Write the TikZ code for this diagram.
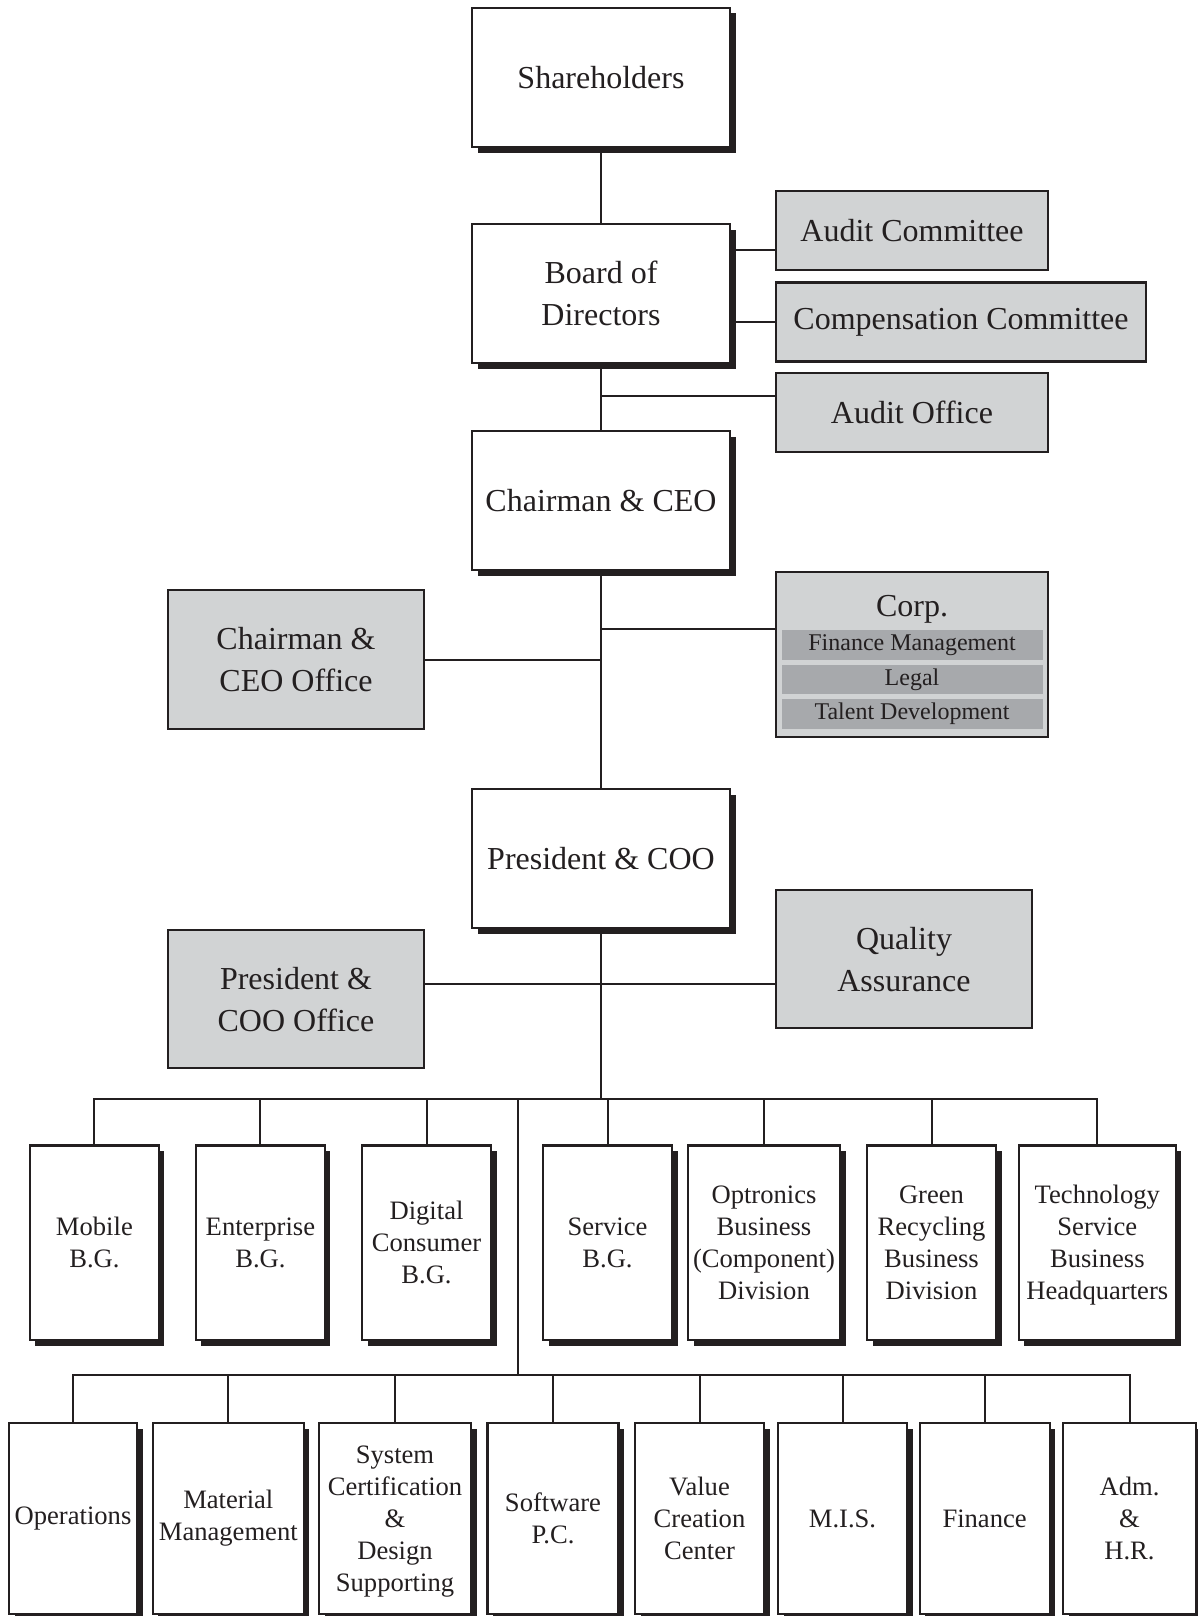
\documentclass[tikz,border=0pt]{standalone}
\usepackage{fontspec}
\setmainfont{Liberation Serif}
\usetikzlibrary{shadows}
\definecolor{ink}{HTML}{231F20}
\definecolor{boxgrey}{HTML}{D1D3D4}
\definecolor{bargrey}{HTML}{A7A9AC}
\begin{document}
\begin{tikzpicture}[x=0.5pt,y=-0.5pt,
  sz/.style 2 args={minimum width=#1*0.5pt, minimum height=#2*0.5pt},
  base/.style={draw=ink, line width=1.1pt, text=ink, inner sep=0pt, outer sep=0pt, align=center},
  whitebox/.style={base, fill=white, drop shadow={shadow xshift=2.75pt, shadow yshift=-2.75pt, opacity=1, fill=ink}},
  greybox/.style={base, fill=boxgrey},
  big/.style={font=\fontsize{16}{21}\selectfont},
  small/.style={font=\fontsize{13.3}{16}\selectfont},
  bar/.style={fill=bargrey, text=ink, inner sep=0pt, outer sep=0pt, font=\fontsize{12}{14}\selectfont},
  conn/.style={draw=ink, line width=1pt},
]
\useasboundingbox (0,0) rectangle (1198,1616);

% top chain
\node[whitebox,big,sz={258}{139}] (sh)  at (601,77.5)  {Shareholders};
\node[whitebox,big,sz={258}{139}] (bod) at (601,293.5) {Board of\\Directors};
\node[whitebox,big,sz={258}{139}] (ceo) at (601,500.5) {Chairman \& CEO};
\node[whitebox,big,sz={258}{139}] (coo) at (601,858.5) {President \& COO};

% grey side boxes
\node[greybox,big,sz={272}{79}]  (ac)  at (912,230.5) {Audit Committee};
\node[greybox,big,sz={370}{79}]  (cc)  at (961,322)   {Compensation Committee};
\node[greybox,big,sz={272}{79}]  (ao)  at (912,412.5) {Audit Office};
\node[greybox,sz={272}{165}]     (corp) at (912,654.5) {};
\node[text=ink,big,inner sep=0pt] (corpt) at (912,609) {Corp.};
\node[bar,sz={261}{30}] (fm)  at (912,645)   {Finance Management};
\node[bar,sz={261}{29}] (lg)  at (912,679.5) {Legal};
\node[bar,sz={261}{30}] (td)  at (912,714)   {Talent Development};
\node[greybox,big,sz={256}{139},text depth=0pt] (ceooff) at (296,659.5) {Chairman \&\\CEO Office};
\node[greybox,big,sz={256}{138},text depth=0pt] (qa)     at (904,959)   {Quality\\Assurance};
\node[greybox,big,sz={256}{138},text depth=0pt] (coooff) at (296,999)   {President \&\\COO Office};

% row 1
\node[whitebox,small,sz={129}{194.5}] (mob) at (94.4,1242.75)  {Mobile\\B.G.};
\node[whitebox,small,sz={129}{194.5}] (ent) at (260.4,1242.75) {Enterprise\\B.G.};
\node[whitebox,small,sz={129}{194.5}] (dig) at (426.5,1242.75) {Digital\\Consumer\\B.G.};
\node[whitebox,small,sz={129}{194.5}] (ser) at (607.5,1242.75) {Service\\B.G.};
\node[whitebox,small,sz={152}{194.5},text depth=0pt] (opt) at (764,1242.75)   {Optronics\\Business\\(Component)\\Division};
\node[whitebox,small,sz={129}{194.5},text depth=0pt] (grn) at (931.5,1242.75) {Green\\Recycling\\Business\\Division};
\node[whitebox,small,sz={157}{194.5},text depth=0pt] (tec) at (1097.3,1242.75) {Technology\\Service\\Business\\Headquarters};

% row 2
\node[whitebox,small,sz={128}{191}] (ops) at (73,1518.5)    {Operations};
\node[whitebox,small,sz={151}{191}] (mat) at (228.3,1518.5) {Material\\Management};
\node[whitebox,small,sz={152}{191},text depth=0pt] (sys) at (395,1518.5)   {System\\Certification\\\&\\Design\\Supporting};
\node[whitebox,small,sz={131}{191}] (sof) at (553,1518.5)   {Software\\P.C.};
\node[whitebox,small,sz={129}{191}] (val) at (699.5,1518.5) {Value\\Creation\\Center};
\node[whitebox,small,sz={129}{191}] (mis) at (842.5,1518.5) {M.I.S.};
\node[whitebox,small,sz={130}{191}] (fin) at (984.6,1518.5) {Finance};
\node[whitebox,small,sz={133}{191}] (adm) at (1129.5,1518.5) {Adm.\\\&\\H.R.};

% helper coordinates
\coordinate (yac) at (0,249.5);
\coordinate (yao) at (0,396);
\coordinate (ycorp) at (0,629);
\coordinate (yqa) at (0,983.6);
\coordinate (bus1) at (601,1099);
\coordinate (br) at (517.6,1099);
\coordinate (bus2) at (517.6,1375);

% connectors
\draw[conn] (sh) -- (bod);
\draw[conn] (bod) -- (ceo);
\draw[conn] (ceo) -- (coo);
\draw[conn] (bod.east |- yac) -- (ac.west |- yac);
\draw[conn] (bod.east |- cc) -- (cc.west);
\draw[conn] (bod.south |- yao) -- (ao.west |- yao);
\draw[conn] (ceo.south |- ycorp) -- (corp.west |- ycorp);
\draw[conn] (ceooff.east) -- (ceo.south |- ceooff);
\draw[conn] (coooff.east |- yqa) -- (qa.west |- yqa);
\draw[conn] (coo.south) -- (bus1);
\draw[conn] (mob.north) |- (bus1) -| (tec.north);
\foreach \n in {ent,dig,ser,opt,grn} \draw[conn] (\n.north) -- (\n.north |- bus1);
\draw[conn] (br) -- (bus2);
\draw[conn] (ops.north) |- (bus2) -| (adm.north);
\foreach \n in {mat,sys,sof,val,mis,fin} \draw[conn] (\n.north) -- (\n.north |- bus2);
\end{tikzpicture}
\end{document}
